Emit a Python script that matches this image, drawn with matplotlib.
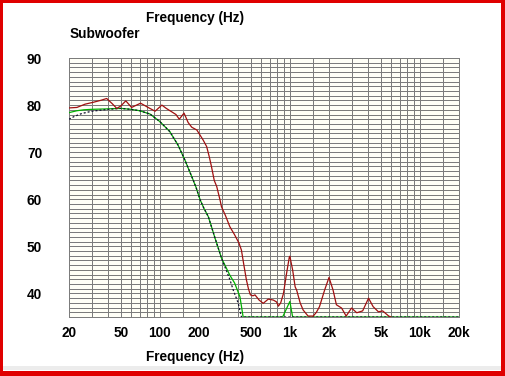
import matplotlib
matplotlib.use("Agg")
import matplotlib.pyplot as plt
from matplotlib.ticker import FixedLocator, NullFormatter
from matplotlib.patches import Rectangle

# ---- data ----
red_f = [20, 23, 26.6, 30.8, 35, 39, 43, 46.6, 50, 54.7, 60.6, 65, 71.1, 80, 91.9,
         103.6, 112, 122.9, 133, 141, 153.4, 165, 175.9, 192.6, 215, 229, 240, 249.6,
         262, 273.8, 290, 298, 320, 345, 375, 406, 424, 443, 463, 480, 497, 520, 539,
         580, 624, 682, 746, 790, 816, 850, 893, 940, 990, 1000, 1050, 1098, 1128, 1200,
         1264, 1380, 1513, 1600, 1690, 1850, 2000, 2150, 2280, 2500, 2710, 2980, 3270,
         3630, 4030, 4370, 4800, 5170, 5760, 6000]
red_db = [79.4, 79.5, 80.2, 80.6, 81.0, 81.4, 80.3, 79.3, 79.8, 80.9, 79.5, 79.9, 80.4,
          79.6, 78.7, 80.0, 79.3, 78.6, 78.0, 77.0, 78.3, 76.3, 75.3, 74.7, 72.6, 71.2,
          69.0, 66.9, 64.0, 62.7, 59.9, 58.4, 56.5, 54.2, 52.5, 50.7, 49.2, 46.0, 42.9,
          41.0, 39.7, 39.5, 39.7, 38.6, 37.9, 38.8, 38.6, 38.2, 37.3, 38.0, 40.0, 44.0,
          47.7, 47.9, 45.0, 41.4, 40.7, 38.0, 36.5, 35.2, 35.2, 36.0, 37.2, 40.7, 43.4,
          40.7, 37.6, 36.9, 35.2, 36.9, 35.9, 36.3, 39.0, 37.2, 36.1, 36.3, 35.2, 35.0]

green_f = [20, 23, 26, 30, 40, 50, 60, 70, 84, 100, 119, 138, 156, 176, 190, 204, 218,
           236, 266, 298, 345, 376, 413, 437, 880, 1000, 1050, 20000]
green_db = [78.4, 78.8, 79.0, 79.1, 79.2, 79.3, 79.1, 78.8, 78.1, 76.5, 74.4, 71.5, 68.3,
            64.8, 62.5, 59.9, 58.1, 56.3, 51.7, 47.5, 43.9, 42.2, 39.3, 35.0, 35.0, 38.3,
            35.0, 35.0]

dash_f = [20, 22, 25, 30, 40, 50, 60, 70, 84, 100, 119, 138, 156, 176, 190, 204, 218,
          236, 266, 298, 345, 367, 400, 424, 20000]
dash_db = [77.0, 77.6, 78.2, 78.7, 79.1, 79.3, 79.1, 78.8, 78.1, 76.5, 74.4, 71.5, 68.3,
           64.8, 62.5, 59.9, 58.1, 56.3, 51.7, 47.5, 43.0, 40.7, 38.0, 35.0, 35.0]

x_major = [20, 50, 100, 200, 500, 1000, 2000, 5000, 10000, 20000]
x_labels = ["20", "50", "100", "200", "500", "1k", "2k", "5k", "10k", "20k"]
x_minor = [30, 40, 60, 70, 80, 90, 150, 300, 400, 600, 700, 800, 900, 1500,
           3000, 4000, 6000, 7000, 8000, 9000, 15000]
y_major = [40, 50, 60, 70, 80, 90]
y_minor = list(range(35, 91))

FONT = "Liberation Sans"
FS = 9.8

fig = plt.figure(figsize=(5.05, 3.76), dpi=100)
fig.patch.set_facecolor("white")

# frame: light grey strip and red border
fig.patches.append(Rectangle((0, 6 / 376), 1, 4 / 376, transform=fig.transFigure,
                             facecolor="#ececec", edgecolor="none", zorder=0))
for (x0, y0, w, h) in [(0, 0, 3 / 505, 1), (0, 1 - 3 / 376, 1, 3 / 376),
                       (1 - 4 / 505, 0, 4 / 505, 1), (0, 0, 1, 5 / 376)]:
    fig.patches.append(Rectangle((x0, y0), w, h, transform=fig.transFigure,
                                 facecolor="#e00000", edgecolor="none", zorder=1))

ax = fig.add_axes([69 / 505, 1 - 317 / 376, 390 / 505, 259 / 376])
ax.set_facecolor("#fffff6")
ax.set_xscale("log")
ax.set_xlim(20, 20000)
ax.set_ylim(35, 90)

ax.xaxis.set_major_locator(FixedLocator(x_major))
ax.xaxis.set_minor_locator(FixedLocator(x_minor))
ax.xaxis.set_minor_formatter(NullFormatter())
ax.set_xticklabels(x_labels)
ax.yaxis.set_major_locator(FixedLocator(y_major))
ax.yaxis.set_minor_locator(FixedLocator(y_minor))
ax.yaxis.set_minor_formatter(NullFormatter())

ax.grid(True, which="both", color="#7c7c7c", linewidth=0.72, antialiased=False)
ax.set_axisbelow(True)
for s in ax.spines.values():
    s.set_color("#7c7c7c")
    s.set_linewidth(0.72)
    s.set_antialiased(False)

ax.tick_params(which="both", length=0)
ax.tick_params(axis="y", pad=27 * 0.72)
ax.tick_params(axis="x", pad=9 * 0.72)
for lab in ax.get_xticklabels() + ax.get_yticklabels():
    lab.set_fontfamily(FONT)
    lab.set_fontweight("bold")
    lab.set_fontsize(FS)

ax.plot(green_f, green_db, color="#00b000", linewidth=0.9, zorder=3)
ax.plot(dash_f, dash_db, color="#101030", linewidth=0.9, linestyle=(0, (1.6, 1.6)), zorder=4)
ax.plot(red_f, red_db, color="#a01010", linewidth=0.9, zorder=5)

fig.text(195 / 505, 1 - 18 / 376, "Frequency (Hz)", ha="center", va="center",
         fontfamily=FONT, fontweight="bold", fontsize=FS)
fig.text(70 / 505, 1 - 34 / 376, "Subwoofer", ha="left", va="center",
         fontfamily=FONT, fontweight="bold", fontsize=FS)
fig.text(195 / 505, 1 - 357 / 376, "Frequency (Hz)", ha="center", va="center",
         fontfamily=FONT, fontweight="bold", fontsize=FS)

fig.savefig("out.png", dpi=100)
